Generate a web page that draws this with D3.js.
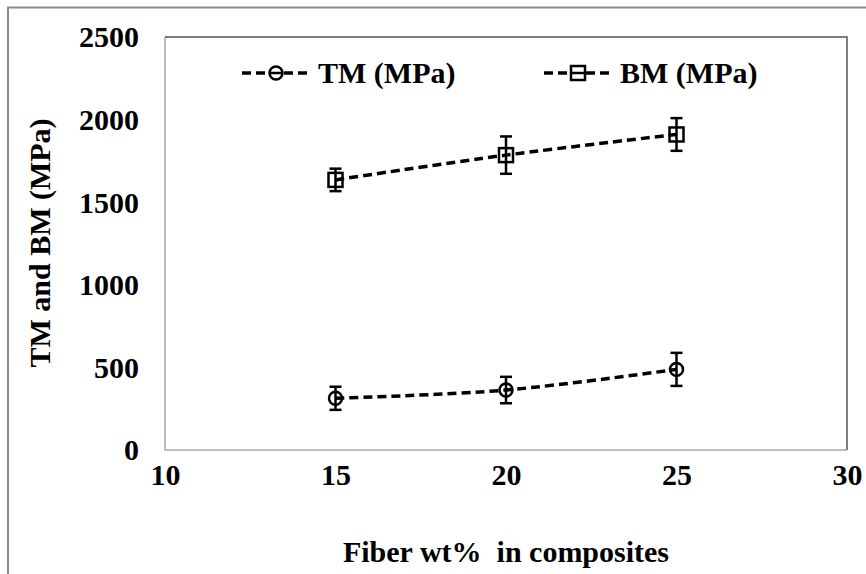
<!DOCTYPE html>
<html><head><meta charset="utf-8">
<script src="https://cdn.jsdelivr.net/npm/d3@7"></script>
<style>body{margin:0;background:#fff}svg{display:block}</style>
</head><body>
<svg id="c" width="866" height="574"></svg>
<script>
const fiber = [15, 20, 25];
const tmValues = [313, 363, 488];
const tmErrors = [70, 80, 100];
const bmValues = [1635, 1785, 1910];
const bmErrors = [68, 113, 99];
const xTicks = [10, 15, 20, 25, 30];
const yTicks = [0, 500, 1000, 1500, 2000, 2500];
const seriesNames = ["TM (MPa)", "BM (MPa)"];
const xTitle = "Fiber wt%  in composites";
const yTitle = "TM and BM (MPa)";

const svg = d3.select("#c");
function styleText(sel) {
  return sel.style("font-family", '"Liberation Serif"').style("font-weight", "bold")
    .style("font-size", "30px").style("fill", "#000");
}
const x = d3.scaleLinear().domain([10, 30]).range([165, 847]);
const y = d3.scaleLinear().domain([0, 2500]).range([450, 37]);

// outer border
svg.append("path").attr("d", "M8,880 L8,7.5 L900,7.5").attr("fill","none").attr("stroke","#8a8a8a").attr("stroke-width",2);

// plot frame
svg.append("path").attr("d", `M${x(10)},${y(2500)} L${x(10)},${y(0)} L${x(30)},${y(0)}`).attr("fill","none").attr("stroke","#a8a8a8").attr("stroke-width",1.5);
svg.append("path").attr("d", `M${x(10)},${y(2500)} L${x(30)},${y(2500)} L${x(30)},${y(0)}`).attr("fill","none").attr("stroke","#555").attr("stroke-width",1.5);

// axes (labels only)
const yAxis = d3.axisLeft(y).tickValues(yTicks).tickSize(0).tickPadding(26).tickFormat(d3.format("d"));
const gy = svg.append("g").attr("transform", `translate(${x(10)},0)`).call(yAxis);
gy.select(".domain").remove();
styleText(gy.selectAll("text")).attr("dy","0.33em");

const xAxis = d3.axisBottom(x).tickValues(xTicks).tickSize(0).tickPadding(35).tickFormat(d3.format("d"));
const gx = svg.append("g").attr("transform", `translate(0,${y(0)})`).call(xAxis);
gx.select(".domain").remove();
styleText(gx.selectAll("text")).attr("dy","0");

// titles
styleText(svg.append("text").attr("x", 506).attr("y", 562).attr("text-anchor","middle"))
  .style("white-space","pre").text(xTitle);
styleText(svg.append("text").attr("transform","translate(50,243) rotate(-90)").attr("text-anchor","middle")).text(yTitle);

const line = d3.line().x(d => x(d[0])).y(d => y(d[1])).curve(d3.curveCatmullRom.alpha(0.5));

function drawSeries(vals, errs, shape) {
  const pts = fiber.map((f, i) => [f, vals[i], errs[i]]);
  svg.append("path").datum(pts).attr("d", line).attr("fill","none").attr("stroke","#000")
    .attr("stroke-width",3.5).attr("stroke-dasharray","9,5");
  const g = svg.append("g");
  pts.forEach(p => {
    const cx = x(p[0]), cy = y(p[1]), t = y(p[1] + p[2]), b = y(p[1] - p[2]);
    g.append("line").attr("x1",cx).attr("x2",cx).attr("y1",t).attr("y2",b).attr("stroke","#000").attr("stroke-width",2.5);
    [t, b].forEach(yy => g.append("line").attr("x1",cx-6).attr("x2",cx+6).attr("y1",yy).attr("y2",yy).attr("stroke","#000").attr("stroke-width",2.5));
    if (shape === "circle") {
      g.append("circle").attr("cx",cx).attr("cy",cy).attr("r",6.5).attr("fill","none").attr("stroke","#000").attr("stroke-width",2.5);
    } else {
      g.append("rect").attr("x",cx-7).attr("y",cy-7).attr("width",14).attr("height",14).attr("fill","none").attr("stroke","#000").attr("stroke-width",2.5);
    }
  });
}
drawSeries(tmValues, tmErrors, "circle");
drawSeries(bmValues, bmErrors, "square");

// legend
const legendItems = [
  {name: seriesNames[0], shape: "circle", x0: 242},
  {name: seriesNames[1], shape: "square", x0: 544}
];
const ly = 73;
legendItems.forEach(it => {
  const g = svg.append("g");
  g.append("line").attr("x1", it.x0).attr("x2", it.x0 + 68).attr("y1", ly).attr("y2", ly)
    .attr("stroke","#000").attr("stroke-width",3.5).attr("stroke-dasharray","9,5");
  const cx = it.x0 + 34;
  if (it.shape === "circle") {
    g.append("circle").attr("cx",cx).attr("cy",ly).attr("r",6.5).attr("fill","#fff").attr("stroke","#000").attr("stroke-width",2.5);
  } else {
    g.append("rect").attr("x",cx-7).attr("y",ly-7).attr("width",14).attr("height",14).attr("fill","#fff").attr("stroke","#000").attr("stroke-width",2.5);
  }
  g.append("line").attr("x1",cx-6).attr("x2",cx+6).attr("y1",ly).attr("y2",ly).attr("stroke","#000").attr("stroke-width",2.5);
  styleText(g.append("text").attr("x", it.x0 + 76).attr("y", 83)).text(it.name);
});
</script>
</body></html>
